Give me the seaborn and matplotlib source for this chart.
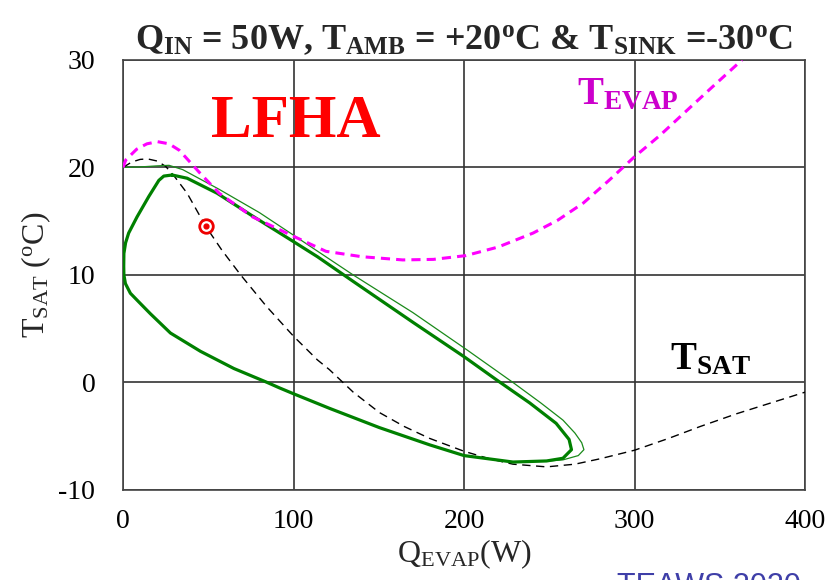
import numpy as np
import pandas as pd
import seaborn as sns
import matplotlib.pyplot as plt

# values
# thick green loop (closed trajectory)
loop_q = [28.8, 37.6, 55.2, 74.8, 100, 114, 135, 170, 200, 219, 238.5, 254, 261.6, 263, 258, 248.4,
          228.7, 200, 179.8, 150.4, 121, 100, 91.7, 84.6, 65, 45.4, 27.8, 16, 9.2, 4.3, 1.4, 0.5,
          0.4, 0.5, 1.5, 3.3, 8.2, 15.1, 21, 23.9, 28.8]
loop_t = [19.3, 19.0, 17.6, 15.6, 13.1, 11.7, 9.4, 5.6, 2.4, 0.25, -1.9, -3.8, -5.3, -6.25, -7.05, -7.3,
          -7.4, -6.8, -5.8, -4.2, -2.4, -1.05, -0.5, 0.0, 1.3, 2.9, 4.6, 6.4, 7.5, 8.3, 9.2, 10.0,
          10.8, 12.0, 13.0, 13.9, 15.4, 17.3, 18.8, 19.2, 19.3]

# thin green start-up trace
thin_q = [0, 10, 20, 27, 35, 56, 80, 100, 135, 170, 202, 228.7, 245, 258, 265, 269, 270.3, 267, 258, 250]
thin_t = [20.0, 20.05, 20.15, 20.2, 19.8, 18.0, 15.8, 13.7, 10.0, 6.5, 3.0, 0.0, -1.9, -3.5, -4.7, -5.6, -6.25, -6.8, -7.2, -7.3]

# T_EVAP (magenta dashed)
evap_q = [0, 1.6, 8, 14, 20.2, 27, 33, 45, 56.4, 76, 100, 119, 140, 164, 182, 201, 220, 240.5, 255, 270, 285, 300, 315, 328.6, 345, 363]
evap_t = [20.0, 20.7, 21.7, 22.2, 22.4, 22.2, 21.6, 19.5, 17.6, 15.4, 13.6, 12.2, 11.7, 11.4, 11.45, 11.8, 12.6, 13.9, 15.1, 16.7, 18.8, 21.0, 23.0, 25.0, 27.4, 30.0]

# T_SAT (black dashed)
sat_q = [0, 5, 10, 14.3, 20, 25, 30, 37.6, 48.4, 58, 69, 84, 100, 114, 121, 135, 150.4, 165, 179.8, 200,
         215, 228.7, 248.4, 265, 279.7, 300, 320, 338.4, 360, 380, 400]
sat_t = [20.0, 20.5, 20.75, 20.8, 20.6, 20.1, 19.2, 17.6, 14.55, 12.3, 10.0, 7.1, 4.3, 2.1, 1.2, -0.9, -2.8, -4.1, -5.2, -6.4,
         -7.1, -7.6, -7.85, -7.6, -7.1, -6.3, -5.2, -4.1, -2.9, -1.9, -0.9]

# operating point
op_q = [48.4]
op_t = [14.55]

loop = pd.DataFrame({'q': loop_q, 't': loop_t})
thin = pd.DataFrame({'q': thin_q, 't': thin_t})
evap = pd.DataFrame({'q': evap_q, 't': evap_t})
sat = pd.DataFrame({'q': sat_q, 't': sat_t})

sns.set_theme(style='white')
plt.rcParams['font.family'] = ['Liberation Serif', 'DejaVu Serif']
plt.rcParams['mathtext.fontset'] = 'custom'
plt.rcParams['mathtext.rm'] = 'Liberation Serif'
plt.rcParams['mathtext.it'] = 'Liberation Serif:italic'
plt.rcParams['mathtext.bf'] = 'Liberation Serif:bold'
plt.rcParams['axes.unicode_minus'] = False
plt.rcParams['lines.solid_joinstyle'] = 'round'

fig = plt.figure(figsize=(8.28, 5.8), dpi=100)
ax = fig.add_axes([0.1486, 0.1552, 0.8237, 0.7414])

sns.lineplot(data=sat, x='q', y='t', sort=False, estimator=None, color='black',
             lw=1.0, ax=ax, zorder=3)
ax.lines[-1].set_dashes((6, 4))
sns.lineplot(data=thin, x='q', y='t', sort=False, estimator=None, color='#1a8a1a',
             lw=0.9, ax=ax, zorder=4)
sns.lineplot(data=loop, x='q', y='t', sort=False, estimator=None, color='#008000',
             lw=2.3, ax=ax, zorder=5)
sns.lineplot(data=evap, x='q', y='t', sort=False, estimator=None, color='#ff00ff',
             lw=2.2, ax=ax, zorder=6)
ax.lines[-1].set_dashes((3, 2))

# operating point marker
ax.scatter(op_q, op_t, s=95, facecolor='white', edgecolor='#ee0000', linewidth=2.0, zorder=8)
ax.scatter(op_q, op_t, s=12, color='#ee0000', zorder=9)

ax.set_xlim(0, 400)
ax.set_ylim(-10, 30)
ax.set_xticks([0, 100, 200, 300, 400])
ax.set_yticks([-10, 0, 10, 20, 30])
ax.grid(True, color='#333333', lw=1.2)
for s in ax.spines.values():
    s.set_color('#444444')
    s.set_linewidth(1.2)
ax.tick_params(axis='both', length=0, labelsize=20, colors='black')
ax.tick_params(axis='x', pad=14)
ax.tick_params(axis='y', pad=20)

ax.set_xlabel(r'Q$_{\mathrm{EVAP}}$(W)', fontsize=23, labelpad=2)
ax.set_ylabel(r'T$_{\mathrm{SAT}}$ ($^{\mathrm{o}}$C)', fontsize=23, labelpad=4)
ax.set_title(r'Q$_{\mathbf{IN}}$ = 50W, T$_{\mathbf{AMB}}$ = +20$^{\mathbf{o}}$C & '
             r'T$_{\mathbf{SINK}}$ =-30$^{\mathbf{o}}$C',
             fontsize=26, fontweight='bold', pad=8)

ax.text(101.6, 24.2, 'LFHA', color='#ff0000', fontsize=44, fontweight='bold',
        ha='center', va='center')
ax.text(266, 25.9, r'T$_{\mathbf{EVAP}}$', color='#cc00cc', fontsize=28,
        fontweight='bold', ha='left', va='baseline')
ax.text(321, 1.27, r'T$_{\mathbf{SAT}}$', color='black', fontsize=28,
        fontweight='bold', ha='left', va='baseline')

fig.text(0.745, 0.014, 'TEAWS 2020', color='#3f3fa8', fontsize=22,
         family='Liberation Sans', ha='left', va='top')

fig.savefig('out.png', dpi=100)
